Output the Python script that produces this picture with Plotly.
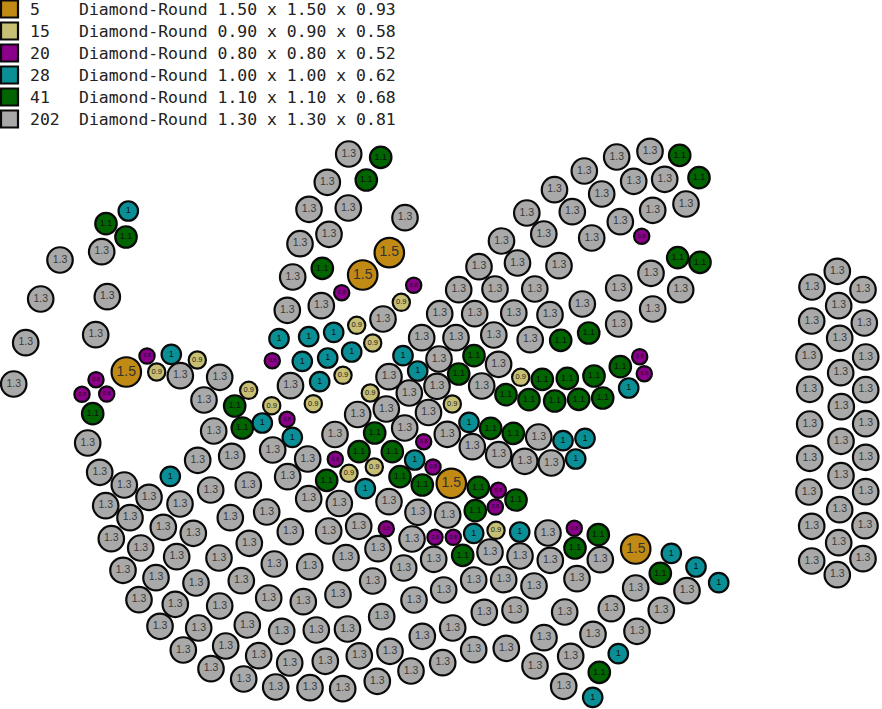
import plotly.graph_objects as go

counts = [5, 15, 20, 28, 41, 202]
descriptions = [
    "Diamond-Round 1.50 x 1.50 x 0.93",
    "Diamond-Round 0.90 x 0.90 x 0.58",
    "Diamond-Round 0.80 x 0.80 x 0.52",
    "Diamond-Round 1.00 x 1.00 x 0.62",
    "Diamond-Round 1.10 x 1.10 x 0.68",
    "Diamond-Round 1.30 x 1.30 x 0.81",
]
labels = ["1.5", "0.9", "0.8", "1", "1.1", "1.3"]
colors = ["#C08A14", "#C6BF74", "#8B008B", "#0A8F96", "#006400", "#A9A9A9"]

stones_15 = [(126.3,372),(389.3,252.7),(362.7,275),(451.3,483.3),(635.7,549)]
stones_09 = [(156.7,372),(197.3,360),(248.7,390.3),(271.7,405.7),(401.3,302.3),(356.7,325.3),
             (372.7,343),(343,375.3),(313.3,403.7),(370.3,393),(452.3,404),(520.7,377.3),
             (349,473.3),(374.3,467),(496,530.3)]
stones_08 = [(147,356),(96,379.7),(82,394.3),(106.7,394),(272.3,360.7),(287,419.3),(341.7,292.7),
             (413.7,285.3),(641.7,236.3),(639.7,356.7),(644.3,373.7),(335.3,459.3),(423.7,441.7),
             (433,467),(498.3,490.3),(495.3,507),(386.3,528.7),(435,537.3),(453.3,537.3),(574.3,528.3)]
stones_10 = [(128.3,211),(171.3,354.3),(279,338.7),(262.3,423),(308.7,336.7),(333.7,332.3),
             (302.3,361.3),(327.7,358),(351.7,352),(319.7,381.7),(403,355.7),(417.7,371),(469,422.3),
             (292.3,437.3),(414.7,460),(365.3,488.7),(170.3,476.3),(563,440.7),(585,438.3),(575.7,459),
             (473.7,533.3),(519.7,532),(671.3,553.3),(696,567),(718.7,582.7),(618.3,653.7),(592.7,697.3),
             (628.7,388)]
stones_11 = [(106,223.7),(126,237),(92.7,413.7),(234.7,406),(242.3,428),(380.7,157.3),(366.3,180),
             (322.3,268.3),(474,355.7),(458.7,374),(679.7,155.3),(699,177.7),(677.7,257.7),(700,262.3),
             (588.7,333),(560.7,340.3),(620.3,366.7),(594,376),(567.3,378.3),(542.3,379.3),(506,394.7),
             (529,399.7),(554.7,401),(578.7,399.3),(602.7,398),(374.7,433),(359,451.7),(392.3,451.7),
             (326.7,480.3),(400,476.7),(422.3,485),(490.7,428.3),(513.3,433.3),(478.3,487.3),(516,500),
             (475.3,510.7),(462.7,555.3),(575,548),(598.3,534.7),(660.3,573.3),(599.3,672.3)]
stones_13 = [(101.7,251.7),(60,260),(40.7,299),(107.3,296.7),(95.7,334.7),(25.7,342.7),(13.7,384),
             (180.3,375.7),(219.7,377.3),(204,400),(290.5,385.7),(213.7,431),
             (348.7,154),(327.3,182.3),(309,209.3),(348.3,208),(405,217.7),(300,243.7),(329,234.3),
             (292.7,277),(287.3,310.3),(321.3,305.7),(383,319),
             (421.7,337.7),(456,337.7),(439,359),(389,376.7),(409.3,393),(437,386.3),(386.3,409),
             (357.7,414.5),(428.5,412.5),(404.7,428),(335,434.5),(447.3,434.3),
             (472.3,446.7),(498.7,454.7),(524.7,461.3),(551.3,463),(538.7,437),
             (554.5,189.7),(526.8,213),(543.8,234),(501.5,241),(517.5,263),(559,265.7),(479,266.7),
             (458.7,289.7),(495,289),(534.8,289),(439.7,313.7),(474.7,313.7),(513.8,313),(550,314.7),
             (493.8,335),(530.2,339.7),(498.6,364.3),(481.7,386),
             (650,151.3),(616.7,157),(584.3,171),(633.7,181.3),(664.7,179.3),(601.7,194),(686,204),
             (572.3,211.7),(652.7,210.3),(620.3,221.7),(591.7,238),
             (651,273.3),(618.7,288),(680.7,289.7),(582.3,304),(652.7,309),(618.7,324),
             (837.3,271.3),(812,287),(863,289.7),(838.7,305.7),(811.7,321),(864.3,323),(839.7,338.3),
             (809,356.7),(865.7,357),(840.7,372.7),(809.7,389.3),(865.7,389.7),(841.3,406.7),(809.7,424),
             (865.7,423.7),(841,441.3),(809.7,458.3),(865.7,457.3),(841,475.7),(809,492),(865.7,491.7),
             (839.7,509.7),(811.7,526.3),(865,525.7),(838.7,542.7),(811.7,561),(863,558.7),(837.3,574.7),
             (87.7,443),(99.7,472.3),(124.3,485),(149,497.3),(105.7,505.7),(130,517.7),(180,504),
             (197.7,460.3),(231.7,456.3),(272.7,450),(307.7,459),(287.7,476.7),(210.7,490),(248.3,485),
             (308.7,498.7),(339.3,503.5),(163.3,527.3),(193.3,533.3),(230.3,517.7),(266.7,512),
             (290.3,531.7),(328.7,531),(358.7,526.3),(111.3,538.7),(140.7,548),(176.7,556.7),(219,558),
             (249.3,543.3),(274.3,564),(309.7,566.7),(346,557.7),(123,570.3),(156,577.7),(196,583),
             (241.3,580.7),(139,599.7),(175.3,604.3),(219.7,606),(268.7,598),(303.3,601.7),(338,594.7),
             (160,626.3),(198.7,628),(247.3,625),(281.7,631.3),(316.3,630),(347.5,629),(183.3,650),
             (225.7,646),(258.7,655.7),(289.7,663),(325.3,661.3),(359.3,655.8),(211,668.7),(243.7,679),
             (275.7,687),(310,687.7),(342.7,688.7),
             (389,501.7),(418,512.3),(447.7,515),(412,539),(378,548.7),(548,533),(490,552),(520,556),
             (550.3,560.3),(600.3,559.7),(403.7,568),(433.7,559.3),(372.7,581),(473.7,580),(503.7,579.7),
             (534,586),(577,578.7),(635.7,588),(687,590.7),(414,600),(443.7,590),(484.3,612.3),(515,610),
             (564.7,612),(611.3,608.7),(661.3,610.3),(381.7,616.7),(452.7,628),(422.3,636.3),(544,637.7),
             (593,634.3),(637,631.3),(390,651.3),(473.7,649.7),(506.3,648.3),(570.7,656.3),(442.7,662.7),
             (535,666),(411,671),(377.3,681.3),(563.7,686.3)]
groups = [stones_15, stones_09, stones_08, stones_10, stones_11, stones_13]

W, H = 882, 709
MARKER = [29.5, 17.3, 15.3, 19.5, 21.5, 25.5]
LABEL_SIZE = [14, 7.5, 5.5, 9, 9, 10.5]
LABEL_COLOR = ["#333333", "#222222", "#111111", "#111111", "#111111", "#3a3a3a"]
LABEL_FONT = "Liberation Sans"
MONO = "DejaVu Sans Mono"
ROW_Y0, ROW_DY = 9, 22

fig = go.Figure()
for i, pts in enumerate(groups):
    fig.add_trace(go.Scatter(
        x=[p[0] for p in pts], y=[p[1] for p in pts],
        mode="markers+text", text=[labels[i]] * len(pts),
        textposition="middle center",
        textfont=dict(family=LABEL_FONT, size=LABEL_SIZE[i], color=LABEL_COLOR[i]),
        marker=dict(size=MARKER[i], color=colors[i], line=dict(color="#0a0a0a", width=2.2)),
        name=labels[i], hoverinfo="skip", cliponaxis=False,
    ))

row_y = [ROW_Y0 + ROW_DY * r for r in range(len(counts))]
fig.add_trace(go.Scatter(
    x=[9.5] * len(counts), y=row_y, mode="markers",
    marker=dict(symbol="square", size=17, color=colors, line=dict(color="#0a0a0a", width=2.2)),
    hoverinfo="skip", cliponaxis=False,
))
for r, y in enumerate(row_y):
    fig.add_annotation(x=29, y=y, text=str(counts[r]), showarrow=False, xanchor="left",
                       yanchor="middle", xshift=-1,
                       font=dict(family=MONO, size=16.45, color="#222222"))
    fig.add_annotation(x=79, y=y, text=descriptions[r], showarrow=False, xanchor="left",
                       yanchor="middle", xshift=-2,
                       font=dict(family=MONO, size=16.45, color="#222222"))

fig.update_layout(
    width=W, height=H, margin=dict(l=0, r=0, t=0, b=0), showlegend=False,
    paper_bgcolor="white", plot_bgcolor="white",
    xaxis=dict(range=[0, W], visible=False, fixedrange=True),
    yaxis=dict(range=[H, 0], visible=False, fixedrange=True),
)
fig.write_html("out.html", config={"displayModeBar": False},
               post_script="document.body.style.margin='0';document.body.style.overflow='hidden';")
